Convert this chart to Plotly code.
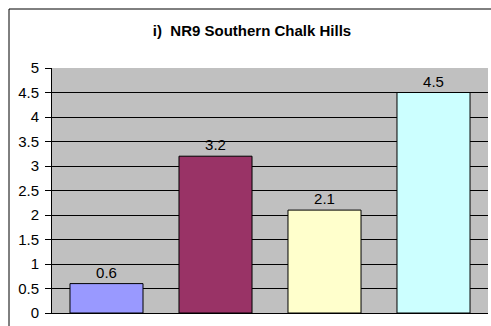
import plotly.graph_objects as go

categories = ["Cat 1", "Cat 2", "Cat 3", "Cat 4"]
values = [0.6, 3.2, 2.1, 4.5]
bar_colors = ["#9999FF", "#993366", "#FFFFCC", "#CCFFFF"]
y_ticks = [0, 0.5, 1, 1.5, 2, 2.5, 3, 3.5, 4, 4.5, 5]

W, H = 491, 326
ml, mr, mt, mb = 52, 3, 68, 13
pw, ph = W - ml - mr, H - mt - mb
FONT = "Arial, Liberation Sans"

fig = go.Figure()
fig.add_trace(go.Bar(
    x=categories, y=values,
    marker=dict(color=bar_colors, line=dict(color="black", width=1)),
    text=[f"{v:g}" for v in values],
    textposition="outside",
    textfont=dict(size=15, color="black", family=FONT),
    cliponaxis=False,
))

fig.update_layout(
    width=W, height=H,
    margin=dict(l=ml, r=mr, t=mt, b=mb),
    paper_bgcolor="white",
    plot_bgcolor="#C0C0C0",
    bargap=0.33,
    showlegend=False,
    font=dict(family=FONT, size=15, color="black"),
    title=dict(
        text="<b>i)&nbsp;&nbsp;NR9 Southern Chalk Hills</b>",
        x=252 / W, xanchor="center", xref="container",
        y=1 - 30.5 / H, yanchor="middle", yref="container",
        font=dict(size=15, family=FONT, color="black"),
    ),
    xaxis=dict(
        range=[-0.5, 3.5], showticklabels=False, showline=True,
        linecolor="black", linewidth=1, ticks="", showgrid=False,
    ),
    yaxis=dict(
        range=[0, 5], tickvals=y_ticks, showgrid=True, gridcolor="black",
        gridwidth=1, showline=True, linecolor="black", linewidth=1,
        ticks="outside", ticklen=6, tickcolor="black", zeroline=False,
        tickfont=dict(size=15), ticklabelstandoff=3,
    ),
    shapes=[dict(
        type="rect", xref="paper", yref="paper",
        x0=(9 - ml) / pw, x1=1.2, y0=-0.3, y1=(H - mb - 9) / ph,
        line=dict(color="black", width=1), fillcolor="rgba(0,0,0,0)",
        layer="below",
    )],
)

fig.write_html("out.html")
